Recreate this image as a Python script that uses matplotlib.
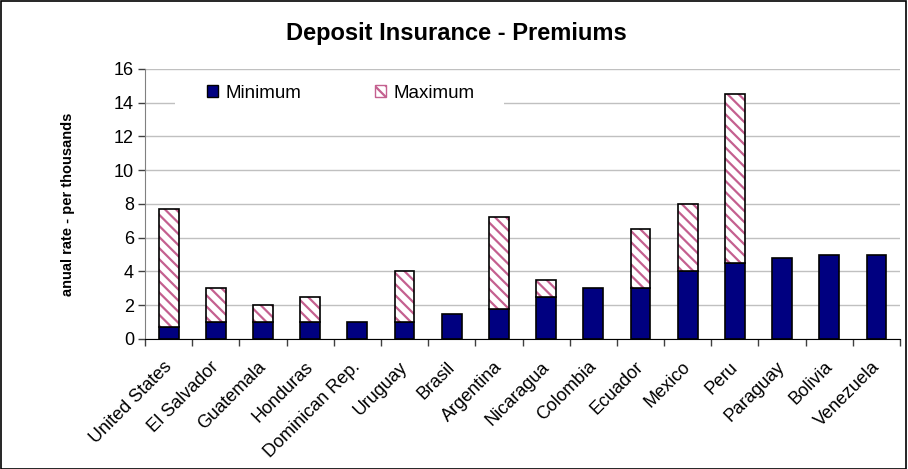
import matplotlib
matplotlib.use("Agg")
import matplotlib.pyplot as plt
from matplotlib.patches import Patch, Rectangle
import numpy as np

countries = ["United States", "El Salvador", "Guatemala", "Honduras", "Dominican Rep.",
             "Uruguay", "Brasil", "Argentina", "Nicaragua", "Colombia", "Ecuador",
             "Mexico", "Peru", "Paraguay", "Bolivia", "Venezuela"]
minimum = [0.7, 1.0, 1.0, 1.0, 1.0, 1.0, 1.5, 1.8, 2.5, 3.0, 3.0, 4.0, 4.5, 4.8, 5.0, 5.0]
maximum = [7.7, 3.0, 2.0, 2.5, 1.0, 4.0, 1.5, 7.2, 3.5, 3.0, 6.5, 8.0, 14.5, 4.8, 5.0, 5.0]
yticks = [0, 2, 4, 6, 8, 10, 12, 14, 16]

plt.rcParams["font.family"] = ["Liberation Sans", "DejaVu Sans"]
plt.rcParams["hatch.linewidth"] = 1.6

NAVY = "#000080"
STRIPE = "#C4608F"

fig = plt.figure(figsize=(9.08, 4.69), dpi=100)
ax = fig.add_axes([0.1597, 0.2772, 0.8315, 0.5757])

x = np.arange(len(countries))
mins = np.array(minimum)
span = np.array(maximum) - mins
width = 0.42

ax.bar(x, mins, width, color=NAVY, edgecolor="black", linewidth=1.2, zorder=3)
has_range = span > 0
ax.bar(x[has_range], span[has_range], width, bottom=mins[has_range], color="white",
       edgecolor=STRIPE, hatch="\\\\\\", linewidth=0, zorder=3)
ax.bar(x[has_range], span[has_range], width, bottom=mins[has_range], fill=False,
       edgecolor="black", linewidth=1.2, zorder=4)

ax.set_xlim(-0.5, len(countries) - 0.5)
ax.set_ylim(0, 16)
ax.set_yticks(yticks)
ax.set_yticklabels([str(v) for v in yticks], fontsize=13)
ax.yaxis.grid(True, color="#C0C0C0", linewidth=1.0, zorder=0)
ax.set_axisbelow(True)

# category labels at centers, tick marks at category boundaries
ax.set_xticks(np.arange(len(countries) + 1) - 0.5)
ax.set_xticklabels([])
ax.tick_params(axis="x", length=5, width=1, color="#404040")
ax.tick_params(axis="y", length=5, width=1, color="#404040", pad=3)
for xi, name in zip(x, countries):
    ax.annotate(name, xy=(xi, 0), xycoords=("data", "axes fraction"),
                xytext=(-4, -14), textcoords="offset points",
                rotation=45, ha="right", va="top", rotation_mode="anchor",
                fontsize=13)

for side in ("top", "right"):
    ax.spines[side].set_visible(False)
ax.spines["left"].set_color("#808080")
ax.spines["bottom"].set_color("black")

ax.set_ylabel("anual rate - per thousands", fontsize=10.5, fontweight="bold", labelpad=28)
fig.text(0.503, 0.928, "Deposit Insurance - Premiums", ha="center", va="center",
         fontsize=17, fontweight="bold")

# white band behind the legend entries
ax.add_patch(Rectangle((0.04, 0.84), 0.435, 0.135, transform=ax.transAxes,
                       facecolor="white", edgecolor="none", zorder=2))
handles = [Patch(facecolor=NAVY, edgecolor="black", linewidth=1),
           Patch(facecolor="white", edgecolor=STRIPE, hatch="\\\\\\", linewidth=1)]
leg = ax.legend(handles, ["Minimum", "Maximum"], ncol=2, loc="center left",
                bbox_to_anchor=(0.082, 0.91), frameon=False, fontsize=13.5,
                handlelength=0.6, handleheight=0.6, handletextpad=0.4,
                columnspacing=3.9, borderpad=0, borderaxespad=0)
leg.set_zorder(5)

fig.patches.append(Rectangle((0.001, 0.001), 0.997, 0.997, transform=fig.transFigure,
                             fill=False, edgecolor="black", linewidth=1.2))

fig.savefig("out.png", dpi=100)
